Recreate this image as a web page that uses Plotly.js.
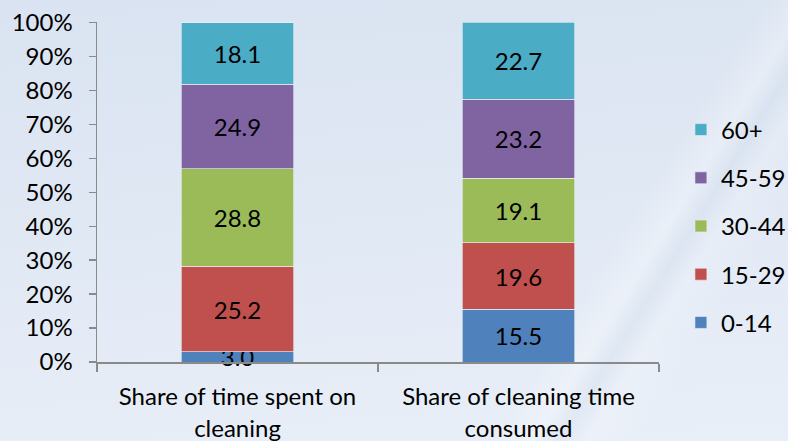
<!DOCTYPE html>
<html>
<head>
<meta charset="utf-8">
<script src="https://cdn.plot.ly/plotly-3.0.1.min.js"></script>
<style>
  html, body { margin: 0; padding: 0; }
  body {
    width: 788px; height: 441px; overflow: hidden;
    background:
      linear-gradient(122deg, rgba(255,255,255,0) 72%, rgba(255,255,255,0.28) 76%, rgba(200,214,232,0.25) 78.5%, rgba(255,255,255,0.18) 81%, rgba(255,255,255,0) 86%),
      linear-gradient(175deg, #dae3f1 0%, #e0e8f4 45%, #e9eff8 100%);
  }
  #chart { width: 788px; height: 441px; }
</style>
</head>
<body>
<div id="chart"></div>
<script>
// Age-group shares (%) for each measure
const categories = ["Share of time spent on<br>cleaning", "Share of cleaning time<br>consumed"];
const ageGroups = ["0-14", "15-29", "30-44", "45-59", "60+"];
const age0to14 = [3.0, 15.5];
const age15to29 = [25.2, 19.6];
const age30to44 = [28.8, 19.1];
const age45to59 = [24.9, 23.2];
const age60plus = [18.1, 22.7];
const yTickVals = [0, 10, 20, 30, 40, 50, 60, 70, 80, 90, 100];
const yTickText = ["0%", "10%", "20%", "30%", "40%", "50%", "60%", "70%", "80%", "90%", "100%"];

const seriesValues = [age0to14, age15to29, age30to44, age45to59, age60plus];
const colors = ["#4f81bd", "#c0504d", "#9bbb59", "#8064a2", "#4bacc6"];

const FONT = "Lato, 'Open Sans', sans-serif";
const FS = 24;

const traces = ageGroups.map((name, i) => ({
  type: "bar",
  name: name,
  x: categories,
  y: seriesValues[i],
  legendgroup: name,
  legendrank: ageGroups.length - i,
  marker: { color: colors[i], line: { color: "rgba(235,240,248,0.8)", width: 0.8 } },
  texttemplate: "%{y:.1f}",
  textposition: "inside",
  insidetextanchor: "middle",
  textangle: 0,
  constraintext: "none",
  // the thin bottom segment's label spills past the axis line
  cliponaxis: false,
  textfont: { family: FONT, size: FS, color: "#000000" },
  hoverinfo: "skip"
}));

const layout = {
  width: 788,
  height: 441,
  paper_bgcolor: "rgba(0,0,0,0)",
  plot_bgcolor: "rgba(0,0,0,0)",
  margin: { l: 97, r: 129, t: 22, b: 79, autoexpand: false },
  barmode: "stack",
  bargap: 0.6,
  showlegend: true,
  legend: {
    traceorder: "grouped",
    tracegroupgap: 14,
    x: 1.039,
    xanchor: "left",
    y: 0.40,
    yanchor: "middle",
    font: { family: FONT, size: FS, color: "#000000" },
    bgcolor: "rgba(0,0,0,0)"
  },
  font: { family: FONT, size: FS, color: "#000000" },
  xaxis: {
    type: "category",
    range: [-0.5, 1.5],
    showline: true,
    linecolor: "#8a8a8a",
    linewidth: 1.5,
    ticks: "outside",
    tickson: "boundaries",
    ticklen: 8,
    tickwidth: 1.5,
    tickcolor: "#8a8a8a",
    showgrid: false,
    zeroline: false,
    tickfont: { family: FONT, size: FS, color: "#000000" },
    ticklabelstandoff: 13
  },
  yaxis: {
    // a hair above 100 so the second column's rounded total (100.1) stays in view
    range: [0, 100.2],
    tickmode: "array",
    tickvals: yTickVals,
    ticktext: yTickText,
    showline: true,
    linecolor: "#8a8a8a",
    linewidth: 1.5,
    ticks: "outside",
    ticklen: 7,
    tickwidth: 1.5,
    tickcolor: "#8a8a8a",
    showgrid: false,
    zeroline: false,
    tickfont: { family: FONT, size: FS, color: "#000000" },
    ticklabelstandoff: 11
  }
};

Plotly.newPlot("chart", traces, layout, { staticPlot: true, displayModeBar: false });
</script>
</body>
</html>
